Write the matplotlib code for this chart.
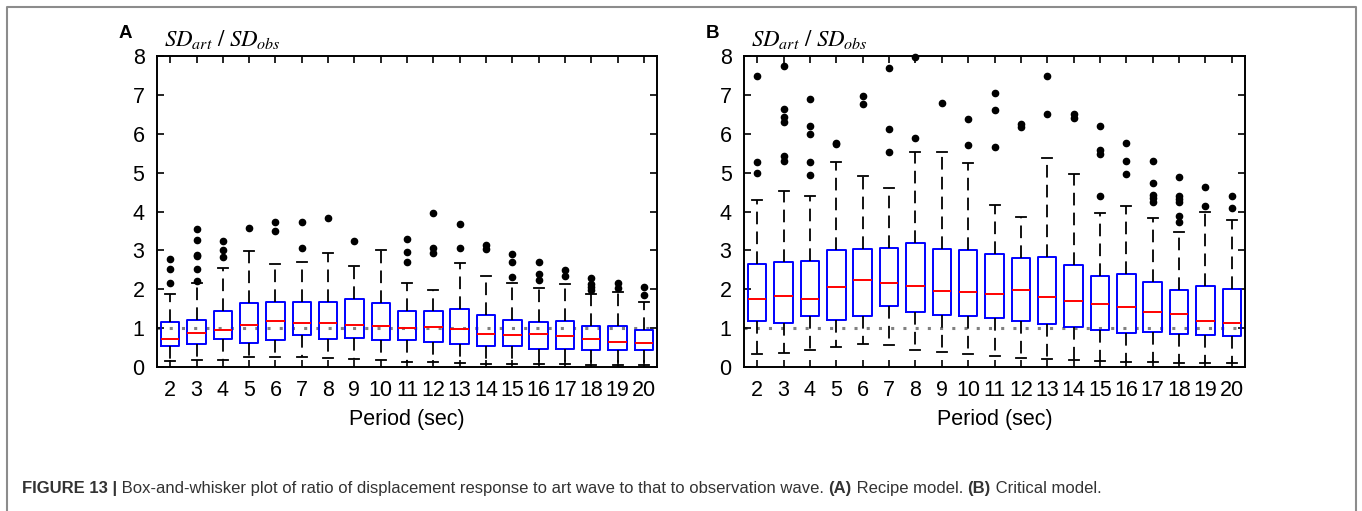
import matplotlib
matplotlib.use("Agg")
import matplotlib.pyplot as plt
from matplotlib.lines import Line2D
from matplotlib.text import Annotation

plt.rcParams['font.family'] = ['Liberation Sans', 'DejaVu Sans']
plt.rcParams['mathtext.fontset'] = 'stix'

periods = list(range(2, 21))

# Panel A: Recipe model
q1_a = [0.53, 0.58, 0.71, 0.63, 0.70, 0.82, 0.71, 0.75, 0.70, 0.70, 0.65, 0.59, 0.53, 0.53, 0.47, 0.47, 0.43, 0.43, 0.43]
med_a = [0.73, 0.88, 0.95, 1.08, 1.18, 1.13, 1.14, 1.08, 1.05, 1.00, 1.03, 0.97, 0.86, 0.82, 0.84, 0.81, 0.71, 0.65, 0.62]
q3_a = [1.16, 1.22, 1.44, 1.65, 1.67, 1.67, 1.67, 1.74, 1.65, 1.44, 1.44, 1.48, 1.34, 1.22, 1.17, 1.19, 1.05, 1.06, 0.96]
lo_a = [0.15, 0.17, 0.19, 0.26, 0.26, 0.26, 0.23, 0.20, 0.17, 0.14, 0.13, 0.11, 0.09, 0.09, 0.08, 0.07, 0.06, 0.04, 0.04]
hi_a = [1.87, 2.17, 2.55, 2.99, 2.64, 2.70, 2.93, 2.60, 3.01, 2.15, 1.98, 2.68, 2.33, 2.17, 2.03, 2.14, 1.87, 1.93, 1.67]
fliers_a = [[2.79, 2.52, 2.17], [3.56, 3.27, 2.89, 2.85, 2.52, 2.21], [3.24, 3.0, 2.83], [3.58],
            [3.72, 3.49], [3.73, 3.07], [3.83], [3.25], [], [3.29, 2.97, 2.70], [3.97, 3.06, 2.93],
            [3.67, 3.06], [3.15, 3.04], [2.90, 2.70, 2.31], [2.69, 2.39, 2.24], [2.50, 2.35],
            [2.28, 2.14, 2.06, 1.97], [2.15, 2.04], [2.05, 1.84]]

# Panel B: Critical model
q1_b = [1.19, 1.12, 1.30, 1.20, 1.31, 1.57, 1.42, 1.34, 1.30, 1.27, 1.18, 1.11, 1.03, 0.94, 0.88, 0.90, 0.84, 0.83, 0.81]
med_b = [1.75, 1.82, 1.75, 2.07, 2.25, 2.17, 2.09, 1.96, 1.93, 1.89, 1.97, 1.80, 1.70, 1.61, 1.55, 1.42, 1.36, 1.19, 1.14]
q3_b = [2.65, 2.70, 2.72, 3.00, 3.04, 3.05, 3.19, 3.04, 3.00, 2.90, 2.80, 2.82, 2.62, 2.33, 2.39, 2.18, 1.98, 2.09, 2.01]
lo_b = [0.33, 0.36, 0.45, 0.52, 0.60, 0.56, 0.45, 0.38, 0.33, 0.28, 0.23, 0.20, 0.17, 0.15, 0.14, 0.12, 0.11, 0.10, 0.10]
hi_b = [4.30, 4.53, 4.41, 5.27, 4.92, 4.60, 5.52, 5.52, 5.25, 4.18, 3.87, 5.38, 4.96, 3.97, 4.14, 3.83, 3.47, 3.98, 3.78]
fliers_b = [[7.48, 5.27, 4.98], [7.75, 6.64, 6.44, 6.30, 5.42, 5.29], [6.90, 6.20, 6.00, 5.27, 4.95],
            [5.77, 5.73], [6.96, 6.77], [7.68, 6.13, 5.52], [7.97, 5.89], [6.80], [6.39, 5.70],
            [7.06, 6.62, 5.67], [6.24, 6.17], [7.48, 6.52], [6.50, 6.41], [6.20, 5.57, 5.48, 4.41],
            [5.75, 5.31, 4.97], [5.30, 4.74, 4.43, 4.35, 4.25], [4.90, 4.40, 4.32, 4.25, 3.89, 3.72],
            [4.63, 4.15], [4.39, 4.10]]

fig = plt.figure(figsize=(13.62, 5.11), dpi=100)

# outer frame, open at the bottom
fig.add_artist(Line2D([0.0055, 0.0055, 0.9955, 0.9955], [0.0, 0.986, 0.986, 0.0],
                      transform=fig.transFigure, color='#8c8c8c', lw=1.5))


def draw_panel(ax, q1, med, q3, lo, hi, fliers, letter):
    stats = [dict(med=med[i], q1=q1[i], q3=q3[i], whislo=lo[i], whishi=hi[i], fliers=fliers[i])
             for i in range(len(periods))]
    ax.axhline(1, color='#808080', ls=(0, (1, 3)), lw=2.2, zorder=1)
    art = ax.bxp(stats, positions=periods, widths=0.7, capwidths=0.38, manage_ticks=False,
                 boxprops=dict(color='blue', lw=1.4),
                 medianprops=dict(color='red', lw=1.4),
                 whiskerprops=dict(color='black', lw=1.3, ls=(0, (7, 4))),
                 capprops=dict(color='black', lw=1.3),
                 flierprops=dict(marker='o', markerfacecolor='black', markeredgecolor='black',
                                 markersize=4.5))
    for f in art['fliers']:
        f.set_clip_on(False)
    ax.set_xlim(1.5, 20.5)
    ax.set_ylim(0, 8)
    ax.set_xticks(periods)
    ax.set_xticklabels([str(p) for p in periods])
    ax.set_yticks(range(0, 9))
    ax.tick_params(direction='in', length=5, width=1.2, top=True, right=True,
                   labelsize=15.5, pad=9)
    for s in ax.spines.values():
        s.set_linewidth(1.4)
    ax.set_xlabel('Period (sec)', fontsize=15.5, labelpad=6)
    pos = ax.get_position()
    fig.text(pos.x0 + 0.005, 0.922, r'$SD_{art}\ /\ SD_{obs}$', fontsize=16.5, va='center', ha='left')
    fig.text(pos.x0 - 0.028, 0.935, letter, fontsize=13.5, fontweight='bold', va='center', ha='left')


ax_a = fig.add_axes([0.1153, 0.2818, 0.3671, 0.6086])
draw_panel(ax_a, q1_a, med_a, q3_a, lo_a, hi_a, fliers_a, 'A')
ax_b = fig.add_axes([0.5463, 0.2818, 0.3678, 0.6086])
draw_panel(ax_b, q1_b, med_b, q3_b, lo_b, hi_b, fliers_b, 'B')

# caption, pieces chained one after another
cap_col = '#333333'
parts = [(' Box-and-whisker plot of ratio of displacement response to art wave to that to observation wave. ', 'normal'),
         ('(A)', 'bold'), (' Recipe model. ', 'normal'), ('(B)', 'bold'), (' Critical model.', 'normal')]
t = fig.text(0.016, 0.036, 'FIGURE 13 |', fontsize=12, fontweight='bold', color=cap_col,
             va='baseline', ha='left')
for txt, w in parts:
    t = fig.add_artist(Annotation(txt, xy=(1, 0), xycoords=t, fontsize=12, fontweight=w,
                                  color=cap_col, va='bottom', ha='left'))

fig.savefig('out.png', dpi=100)
